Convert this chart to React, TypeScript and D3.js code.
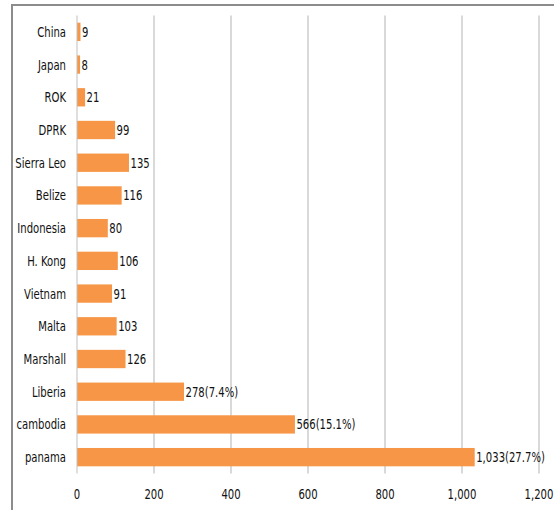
import React, { useEffect, useRef } from 'react';
import * as d3 from 'd3';

const categories = ['China', 'Japan', 'ROK', 'DPRK', 'Sierra Leo', 'Belize', 'Indonesia', 'H. Kong', 'Vietnam', 'Malta', 'Marshall', 'Liberia', 'cambodia', 'panama'];
const values = [9, 8, 21, 99, 135, 116, 80, 106, 91, 103, 126, 278, 566, 1033];
const shares = ['', '', '', '', '', '', '', '', '', '', '', '7.4%', '15.1%', '27.7%'];
const xTicks = [0, 200, 400, 600, 800, 1000, 1200];

const FONT = "'DejaVu Sans', sans-serif";
// narrow the glyphs to look like the Calibri labels of the original
const SQUEEZE = 0.72;

export default function App() {
  const ref = useRef<SVGSVGElement>(null);

  useEffect(() => {
    if (!ref.current) return;
    const svg = d3.select(ref.current);
    svg.selectAll('*').remove();

    const width = 554;
    const height = 510;
    const margin = { top: 15.5, right: 15, bottom: 36.5, left: 77 };

    // outer frame
    svg.append('path')
      .attr('d', `M12,${height} V5 H${width}`)
      .attr('fill', 'none')
      .attr('stroke', '#8c8c8c')
      .attr('stroke-width', 2);

    const data = categories.map((c, i) => ({ name: c, value: values[i], share: shares[i] }));

    const x = d3.scaleLinear().domain([0, 1200]).range([margin.left, margin.left + 462]);
    const y = d3.scaleBand<string>()
      .domain(categories)
      .range([margin.top, height - margin.bottom])
      .paddingInner(0.44)
      .paddingOuter(0.22);

    const txt = (sel: any) =>
      sel
        .attr('font-family', FONT)
        .attr('font-size', 14)
        .attr('dy', '0.36em')
        .attr('fill', '#111');

    const at = (px: number, py: number) => `translate(${px},${py}) scale(${SQUEEZE},1)`;

    // gridlines
    svg.append('g')
      .selectAll('line')
      .data(xTicks.slice(1))
      .join('line')
      .attr('x1', (d) => x(d))
      .attr('x2', (d) => x(d))
      .attr('y1', margin.top)
      .attr('y2', height - margin.bottom)
      .attr('stroke', '#d9d9d9')
      .attr('stroke-width', 2);

    // bars
    svg.append('g')
      .selectAll('rect')
      .data(data)
      .join('rect')
      .attr('x', x(0))
      .attr('y', (d) => y(d.name)!)
      .attr('width', (d) => x(d.value) - x(0))
      .attr('height', y.bandwidth())
      .attr('fill', '#f79646');

    // value labels
    svg.append('g')
      .selectAll('text')
      .data(data)
      .join('text')
      .attr('transform', (d) => at(x(d.value) + 1.5, y(d.name)! + y.bandwidth() / 2))
      .call(txt)
      .text((d) => d3.format(',')(d.value) + (d.share ? `(${d.share})` : ''));

    // y axis line
    svg.append('line')
      .attr('x1', x(0))
      .attr('x2', x(0))
      .attr('y1', margin.top)
      .attr('y2', height - margin.bottom)
      .attr('stroke', '#bfbfbf')
      .attr('stroke-width', 1);

    // category labels
    svg.append('g')
      .selectAll('text')
      .data(categories)
      .join('text')
      .attr('transform', (d) => at(66, y(d)! + y.bandwidth() / 2))
      .attr('text-anchor', 'end')
      .call(txt)
      .text((d) => d);

    // x tick labels
    svg.append('g')
      .selectAll('text')
      .data(xTicks)
      .join('text')
      .attr('transform', (d) => at(x(d), 494))
      .attr('text-anchor', 'middle')
      .call(txt)
      .text((d) => d3.format(',')(d));
  }, []);

  return (
    <svg
      ref={ref}
      width={554}
      height={510}
      style={{ position: 'absolute', left: 0, top: 0, background: '#fff' }}
    />
  );
}
